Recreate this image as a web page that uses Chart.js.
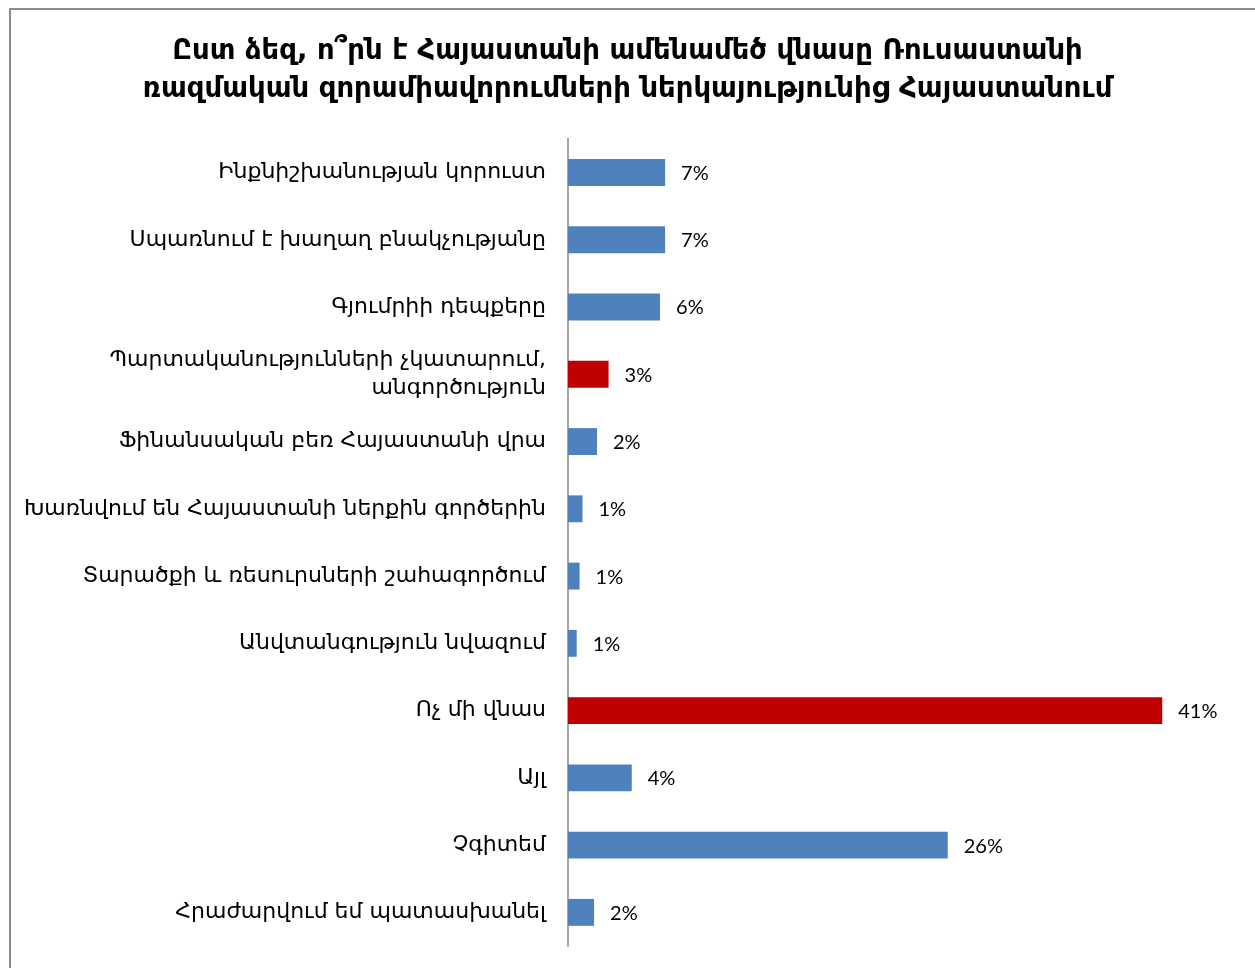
<!DOCTYPE html>
<html>
<head>
<meta charset="utf-8">
<script src="https://cdn.jsdelivr.net/npm/chart.js@4"></script>
<style>
    body { margin: 0; background: #fff; overflow: hidden; }
    #wrap { position: relative; width: 1255px; height: 968px; }
    #frame { position: absolute; left: 9px; top: 8px; width: 1260px; height: 980px; border: 2px solid #8c8c8c; pointer-events: none; }
</style>
</head>
<body>
<div id="wrap">
    <canvas id="chart" width="1255" height="968"></canvas>
    <div id="frame"></div>
</div>
<script>
// Հարցման արդյունքներ (%)
const categories = [
    'Ինքնիշխանության կորուստ',
    'Սպառնում է խաղաղ բնակչությանը',
    'Գյումրիի դեպքերը',
    ['Պարտականությունների չկատարում,', 'անգործություն'],
    'Ֆինանսական բեռ Հայաստանի վրա',
    'Խառնվում են Հայաստանի ներքին գործերին',
    'Տարածքի և ռեսուրսների շահագործում',
    'Անվտանգություն նվազում',
    'Ոչ մի վնաս',
    'Այլ',
    'Չգիտեմ',
    'Հրաժարվում եմ պատասխանել'
];
const values = [6.7, 6.7, 6.35, 2.8, 2.0, 1.0, 0.8, 0.6, 41, 4.4, 26.2, 1.8];
const valueLabels = ['7%', '7%', '6%', '3%', '2%', '1%', '1%', '1%', '41%', '4%', '26%', '2%'];
const highlighted = [3, 8];

const blue = '#4F81BD';
const red = '#C00000';

// Տոկոսների պիտակներ սյուների աջ կողմում
const valueLabelPlugin = {
    id: 'valueLabels',
    afterDatasetsDraw(chart) {
        const ctx = chart.ctx;
        const meta = chart.getDatasetMeta(0);
        ctx.save();
        ctx.font = '20px Lato, "DejaVu Sans", sans-serif';
        ctx.fillStyle = '#000';
        ctx.textBaseline = 'middle';
        meta.data.forEach((bar, i) => {
            ctx.fillText(valueLabels[i], bar.x + 16, bar.y + 1);
        });
        ctx.restore();
    }
};

new Chart(document.getElementById('chart'), {
    type: 'bar',
    data: {
        labels: categories,
        datasets: [{
            data: values,
            backgroundColor: values.map((v, i) => highlighted.includes(i) ? red : blue),
            borderWidth: 0,
            barPercentage: 0.4,
            categoryPercentage: 1
        }]
    },
    options: {
        indexAxis: 'y',
        responsive: false,
        animation: false,
        layout: { padding: { left: 0, right: 0, bottom: 22 } },
        plugins: {
            legend: { display: false },
            tooltip: { enabled: false },
            title: {
                display: true,
                text: ['Ըստ ձեզ, ո՞րն է Հայաստանի ամենամեծ վնասը Ռուսաստանի',
                       'ռազմական զորամիավորումների ներկայությունից Հայաստանում'],
                color: '#000',
                font: { family: '"DejaVu Sans", sans-serif', size: 27.5, weight: 'bold', lineHeight: 1.38 },
                padding: { top: 33, bottom: 30 }
            }
        },
        scales: {
            x: {
                display: false,
                min: 0,
                max: 47.4
            },
            y: {
                grid: { display: false },
                border: { display: true, color: '#a6a6a6', width: 2 },
                ticks: {
                    color: '#000',
                    padding: 14,
                    font: { family: '"DejaVu Sans", sans-serif', size: 22, lineHeight: 1.25 }
                },
                afterFit(scale) {
                    scale.width = 568;
                    scale.paddingBottom = 0;
                }
            }
        }
    },
    plugins: [valueLabelPlugin]
});
</script>
</body>
</html>
